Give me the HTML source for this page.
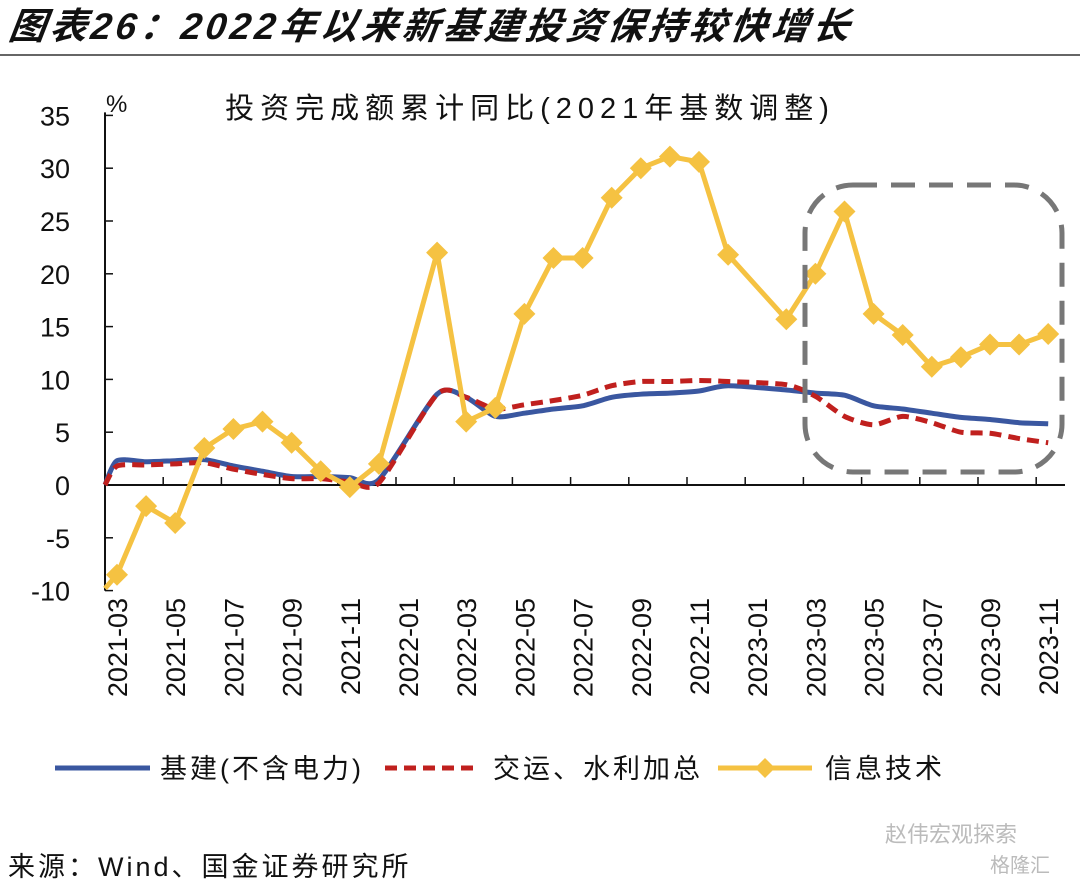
<!DOCTYPE html>
<html><head><meta charset="utf-8">
<style>
body{margin:0;background:#fff;width:1080px;height:886px;overflow:hidden;font-family:"Liberation Sans","Noto Sans CJK SC",sans-serif;}
svg{position:absolute;left:0;top:0}
</style></head>
<body>
<svg width="1080" height="886" viewBox="0 0 1080 886" id="svg">
<text x="8" y="39" font-size="37" font-weight="bold" font-style="italic" letter-spacing="4" fill="#111" transform="skewX(-8) translate(5,0)">图表26：2022年以来新基建投资保持较快增长</text>
<line x1="0" y1="55" x2="1080" y2="55" stroke="#333" stroke-width="1.5"/>
<text x="530" y="118" font-size="29" text-anchor="middle" fill="#111" letter-spacing="6">投资完成额累计同比(2021年基数调整)</text>
<text x="106" y="112" font-size="24" fill="#111">%</text>
<g id="axes"></g>
<g id="plot"></g>
<rect x="805" y="185" width="257" height="287" rx="48" ry="48" fill="none" stroke="#777" stroke-width="5" stroke-dasharray="24,14"/>
<g>
<line x1="55" y1="768" x2="150" y2="768" stroke="#3a57a0" stroke-width="5"/>
<text x="160" y="778" font-size="27" letter-spacing="3" fill="#111">基建(不含电力)</text>
<line x1="385" y1="768" x2="480" y2="768" stroke="#c0201e" stroke-width="5" stroke-dasharray="12,7"/>
<text x="493" y="778" font-size="27" letter-spacing="3" fill="#111">交运、水利加总</text>
<line x1="718" y1="768" x2="812" y2="768" stroke="#f5c242" stroke-width="5"/>
<polygon points="765,758 775,768 765,778 755,768" fill="#f5c242"/>
<text x="825" y="778" font-size="27" letter-spacing="3" fill="#111">信息技术</text>
</g>
<text x="8" y="876" font-size="27" letter-spacing="3" fill="#111">来源：Wind、国金证券研究所</text>
<text x="885" y="842" font-size="22" fill="#bbb">赵伟宏观探索</text>
<text x="990" y="872" font-size="20" fill="#bbb">格隆汇</text>
</svg>
<script>
const months=["2021-02","2021-03","2021-04","2021-05","2021-06","2021-07","2021-08","2021-09","2021-10","2021-11","2021-12","2022-01","2022-02","2022-03","2022-04","2022-05","2022-06","2022-07","2022-08","2022-09","2022-10","2022-11","2022-12","2023-01","2023-02","2023-03","2023-04","2023-05","2023-06","2023-07","2023-08","2023-09","2023-10","2023-11"];
const infra=[0,2.3,2.2,2.3,2.4,1.8,1.3,0.8,0.8,0.7,0.5,null,8.6,8.3,6.5,6.8,7.2,7.5,8.3,8.6,8.7,8.9,9.4,null,9.0,8.7,8.5,7.5,7.2,6.8,6.4,6.2,5.9,5.8];
const transport=[0,1.8,1.9,2.0,2.1,1.5,1.0,0.6,0.6,0.3,0.2,null,8.6,8.3,7.2,7.6,8.0,8.5,9.4,9.8,9.8,9.9,9.8,null,9.5,8.4,6.5,5.7,6.5,5.9,5.0,4.9,4.4,4.0];
const itech=[-9.8,-8.5,-2.0,-3.6,3.5,5.3,6.0,4.0,1.3,-0.2,2.0,null,22.0,6.0,7.3,16.2,21.5,21.5,27.2,30.0,31.1,30.6,21.8,null,15.7,20.0,25.9,16.2,14.2,11.2,12.1,13.3,13.3,14.3];
const yTicks=[35,30,25,20,15,10,5,0,-5,-10];
const xLabels=["2021-03","2021-05","2021-07","2021-09","2021-11","2022-01","2022-03","2022-05","2022-07","2022-09","2022-11","2023-01","2023-03","2023-05","2023-07","2023-09","2023-11"];

const NS="http://www.w3.org/2000/svg";
const X0=105,STEP=29.1;
function x(i){return i===0?X0:117+STEP*(i-1);}
function y(v){return 485-v*10.56;}
function mk(tag,at,parent){const e=document.createElementNS(NS,tag);for(const k in at)e.setAttribute(k,at[k]);parent.appendChild(e);return e;}
const axes=document.getElementById('axes'),plot=document.getElementById('plot');

let yl=mk('line',{x1:X0,y1:y(35)-3,x2:X0,y2:y(-10),stroke:'#111','stroke-width':2},axes);


yTicks.forEach(v=>{
  let t=mk('line',{x1:X0,y1:y(v),x2:X0+8,y2:y(v),stroke:'#111','stroke-width':1.5},axes);
  
  
  let tx=mk('text',{x:70,y:y(v)+10,'font-size':27,'text-anchor':'end',fill:'#111'},axes);
  tx.textContent=v;
  
  
});
let xl=mk('line',{x1:X0,y1:y(0),x2:1065,y2:y(0),stroke:'#111','stroke-width':2},axes);


for(let k=1;k<=16;k++){
  let t=mk('line',{x1:X0+58.2*k,y1:y(0),x2:X0+58.2*k,y2:y(0)-8,stroke:'#111','stroke-width':1.5},axes);
  
  
}
xLabels.forEach(l=>{
  const i=months.indexOf(l);const cx=x(i)+10;
  let tx=mk('text',{x:cx,y:598,'font-size':27,'text-anchor':'end',fill:'#111',transform:`rotate(-90 ${cx} 598)`},axes);
  tx.textContent=l;
  
  
});

function pts(arr){const p=[];arr.forEach((v,i)=>{if(v!==null)p.push([x(i),y(v)]);});return p;}
function smooth(p){let d=`M${p[0][0]},${p[0][1]}`;for(let i=0;i<p.length-1;i++){const p0=p[i-1]||p[i],p1=p[i],p2=p[i+1],p3=p[i+2]||p2;const t=0.12;d+=` C${p1[0]+(p2[0]-p0[0])*t},${p1[1]+(p2[1]-p0[1])*t} ${p2[0]-(p3[0]-p1[0])*t},${p2[1]-(p3[1]-p1[1])*t} ${p2[0]},${p2[1]}`;}return d;}

let b=mk('path',{d:smooth(pts(infra)),fill:'none',stroke:'#3a57a0','stroke-width':5},plot);


let r=mk('path',{d:smooth(pts(transport)),fill:'none',stroke:'#c0201e','stroke-width':5,'stroke-dasharray':'12,7'},plot);


const ip=pts(itech);
let yLine=mk('polyline',{points:ip.map(p=>p.join(',')).join(' '),fill:'none',stroke:'#f5c242','stroke-width':5,'stroke-linejoin':'round'},plot);


itech.forEach((v,i)=>{
  if(v===null||i===0)return;
  const cx=x(i),cy=y(v);
  let m=mk('polygon',{points:`${cx},${cy-11} ${cx+11},${cy} ${cx},${cy+11} ${cx-11},${cy}`,fill:'#f5c242'},plot);
  
  
});
</script>
</body></html>
